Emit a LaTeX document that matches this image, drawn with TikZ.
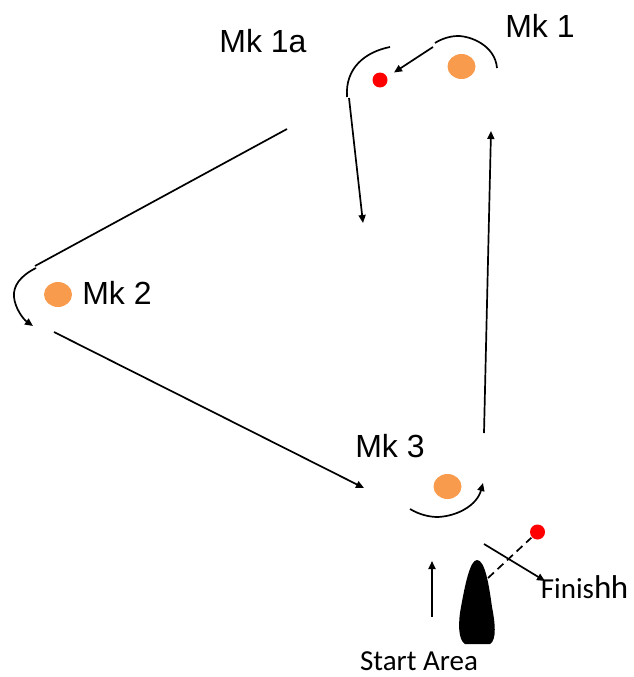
\documentclass[tikz,border=0pt]{standalone}
\usepackage{fontspec}
\setmainfont{Liberation Sans}
\newfontfamily\startfont{Carlito}
\usetikzlibrary{arrows.meta,shapes.geometric}
\definecolor{buoyorange}{RGB}{249,155,77}

\begin{document}
\begin{tikzpicture}[
                        x=1pt,
                        y=-1pt,
                        >={Triangle[length=8pt,width=7pt]},
                        line width=1.7pt,
                        buoy/.style={ellipse,fill=buoyorange,draw=none,minimum width=28pt,minimum height=25pt,inner sep=0pt},
                        pin/.style={circle,fill=red,draw=none,minimum size=15pt,inner sep=0pt},
                        mklabel/.style={inner sep=0pt,font=\fontsize{32}{38}\selectfont},
                        startlabel/.style={inner sep=0pt,font=\startfont\fontsize{29}{34}\selectfont}
                    ]
                    \useasboundingbox (0,0) rectangle (634,677);

                    \node[buoy]  (mkone)   at (461.5,66.5) {} ;
                    \node[buoy]  (mktwo)   at (58,294.5)   {} ;
                    \node[buoy]  (mkthree) at (447.5,486.5) {} ;
                    \node[pin]   (mkonea)  at (380,80)     {} ;
                    \node[pin]   (finpin)  at (537.5,532)  {} ;

                    \node[mklabel] (lone)   at (540,26)  {Mk 1} ;
                    \node[mklabel] (lonea)  at (263,41)  {Mk 1a} ;
                    \node[mklabel] (ltwo)   at (117,293) {Mk 2} ;
                    \node[mklabel] (lthree) at (390,446) {Mk 3} ;
                    \node[startlabel] (lstart) at (419,661) {Start Area} ;
                    \node[inner sep=0pt,anchor=base west] (lfinish) at (540,598)
                        {\startfont\fontsize{29}{34}\selectfont Finis\fontsize{33}{34}\selectfont h\kern-0.5pt h} ;

                    % round Mk 1
                    \coordinate (a) at (497,68) ;
                    \coordinate (b) at (435,43) ;
                    \coordinate (c) at (433,47) ;
                    \coordinate (d) at (394,72.5) ;
                    \coordinate (e) at (491,131) ;
                    \coordinate (f) at (484,433) ;
                    % round Mk 1a
                    \coordinate (g) at (390,47) ;
                    \coordinate (h) at (347,97) ;
                    \coordinate (i) at (349,98) ;
                    \coordinate (j) at (363,223) ;
                    % round Mk 2
                    \coordinate (k) at (287,129) ;
                    \coordinate (l) at (35,266) ;
                    \coordinate (m) at (36,268) ;
                    \coordinate (n) at (33,326) ;
                    \coordinate (o) at (54,332) ;
                    \coordinate (p) at (364,488) ;
                    % round Mk 3
                    \coordinate (q) at (410,509) ;
                    \coordinate (r) at (483,483) ;
                    % start and finish
                    \coordinate (s) at (432,617) ;
                    \coordinate (t) at (432,561) ;
                    \coordinate (u) at (484,544) ;
                    \coordinate (v) at (545,581) ;
                    \coordinate (w) at (488,578) ;

                    \draw (a) .. controls (495,45) and (470,36) .. (458,36) .. controls (450,36) and (441,39) .. (b) ;
                    \draw[->] (c) -- (d) ;
                    \draw[->] (f) -- (e) ;
                    \draw (g) .. controls (365,52) and (345,68) .. (h) ;
                    \draw[->] (i) -- (j) ;
                    \draw (k) -- (l) ;
                    \draw[->] (m) .. controls (20,276) and (13,286) .. (14,297) .. controls (15,308) and (23,319) .. (n) ;
                    \draw[->] (o) -- (p) ;
                    \draw[->] (q) .. controls (420,515) and (430,517) .. (438,517) .. controls (458,516) and (477,505) .. (r) ;
                    \draw[->] (s) -- (t) ;
                    \draw[->] (u) -- (v) ;
                    \draw[dash pattern=on 8pt off 5pt] (w) -- (finpin) ;

                    % boat
                    \fill (477,560) .. controls (485,560) and (489,585) .. (492,607)
                        .. controls (495,622) and (497,640) .. (490,644)
                        -- (465,644) .. controls (458,640) and (458,622) .. (461,607)
                        .. controls (465,585) and (470,560) .. (477,560) -- cycle ;

                \end{tikzpicture}
\end{document}
